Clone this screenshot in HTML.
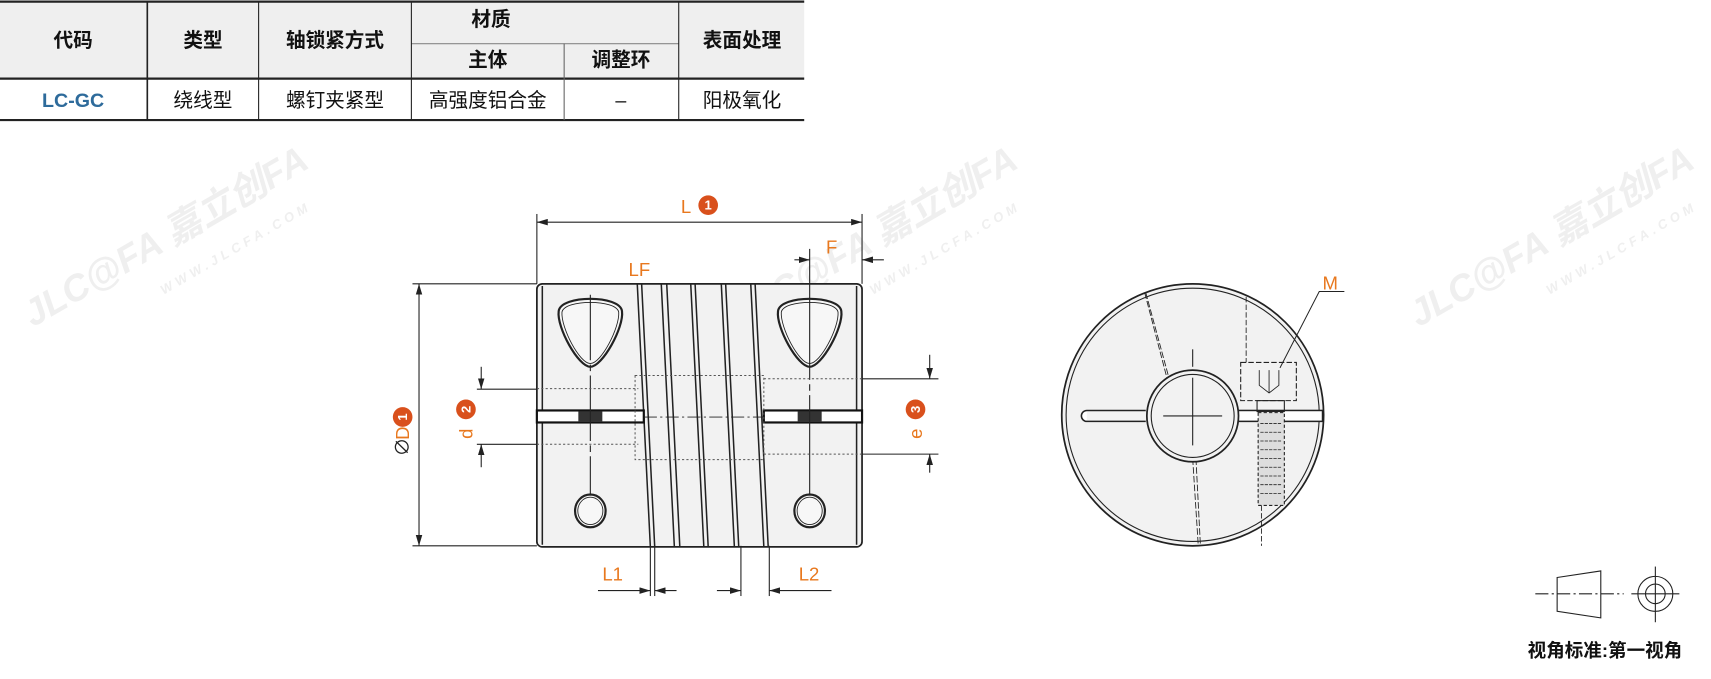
<!DOCTYPE html>
<html><head><meta charset="utf-8"><style>
html,body{margin:0;padding:0;background:#fff;}
svg{display:block;}
text{font-family:"Liberation Sans","Noto Sans CJK SC",sans-serif;}
</style></head><body>
<svg width="1711" height="679" viewBox="0 0 1568 622" preserveAspectRatio="none" xmlns="http://www.w3.org/2000/svg">
<defs>
<marker id="a" viewBox="0 0 10 6" refX="10" refY="3" markerWidth="10" markerHeight="6" orient="auto-start-reverse" markerUnits="userSpaceOnUse"><path d="M0,0 L10,3 L0,6z" fill="#222"/></marker>
</defs>
<!-- watermarks -->
<g fill="#efefef" font-weight="bold" font-style="italic">
<text x="0" y="0" font-size="34" transform="translate(30,300) rotate(-30)">JLC@FA 嘉立创FA</text>
<text x="0" y="0" font-size="12" transform="translate(150,270) rotate(-30)" letter-spacing="4">WWW.JLCFA.COM</text>
<text x="0" y="0" font-size="34" transform="translate(680,300) rotate(-30)">JLC@FA 嘉立创FA</text>
<text x="0" y="0" font-size="12" transform="translate(800,270) rotate(-30)" letter-spacing="4">WWW.JLCFA.COM</text>
<text x="0" y="0" font-size="34" transform="translate(1300,300) rotate(-30)">JLC@FA 嘉立创FA</text>
<text x="0" y="0" font-size="12" transform="translate(1420,270) rotate(-30)" letter-spacing="4">WWW.JLCFA.COM</text>
</g>
<!-- table -->
<rect x="0" y="1" width="737" height="71" fill="#efefef"/>
<g stroke="#222" fill="none">
<line x1="0" y1="1.5" x2="737" y2="1.5" stroke-width="2"/>
<line x1="0" y1="72" x2="737" y2="72" stroke-width="2"/>
<line x1="0" y1="110" x2="737" y2="110" stroke-width="2"/>
<line x1="377" y1="40" x2="622" y2="40" stroke="#888"/>
<line x1="135" y1="1" x2="135" y2="110" stroke-width="1.5"/>
<line x1="237" y1="1" x2="237" y2="110"/>
<line x1="377" y1="1" x2="377" y2="110"/>
<line x1="517" y1="40" x2="517" y2="110" stroke="#666"/>
<line x1="622" y1="1" x2="622" y2="110"/>
</g>
<g font-size="18" fill="#111" text-anchor="middle" font-weight="bold">
<text x="67" y="43">代码</text><text x="186" y="43">类型</text><text x="307" y="43">轴锁紧方式</text>
<text x="450" y="24">材质</text><text x="447" y="61">主体</text><text x="569" y="61">调整环</text><text x="680" y="43">表面处理</text>
</g>
<g font-size="18" fill="#111" text-anchor="middle">
<text x="67" y="98" fill="#2e6b9b" font-weight="bold">LC-GC</text><text x="186" y="98">绕线型</text><text x="307" y="98">螺钉夹紧型</text>
<text x="447" y="98">高强度铝合金</text><text x="569" y="98">–</text><text x="680" y="98">阳极氧化</text>
</g>
<!-- front view body -->
<rect x="492" y="260" width="298" height="241" rx="5" fill="#f2f2f2" stroke="#222" stroke-width="1.6"/>
<g stroke="#222" stroke-width="1.4" fill="none">
<path d="M584,260 L596,501 M588,260 L600,501"/>
<path d="M606,260 L618,501 M611,260 L623,501"/>
<path d="M633,260 L645,501 M637,260 L649,501"/>
<path d="M661,260 L673,501 M665,260 L677,501"/>
<path d="M688,260 L700,501 M692,260 L704,501"/>
<line x1="497" y1="262" x2="497" y2="499"/><line x1="785" y1="262" x2="785" y2="499"/>
</g>
<!-- slits -->
<rect x="492" y="376" width="98" height="11" fill="#fff" stroke="#111" stroke-width="2"/>
<rect x="700" y="376" width="90" height="11" fill="#fff" stroke="#111" stroke-width="2"/>
<rect x="530" y="377" width="22" height="9" fill="#333"/><rect x="731" y="377" width="22" height="9" fill="#333"/>
<line x1="590" y1="382" x2="700" y2="382" stroke="#222" stroke-dasharray="12,3,2,3" stroke-width="0.8"/>
<!-- triangles -->
<g fill="#f7f7f7" stroke="#222" stroke-width="2">
<path d="M541,336 C530,336 510,300 512,285 C514,270 568,270 570,285 C572,300 552,336 541,336Z"/>
<path d="M742,336 C731,336 711,300 713,285 C715,270 769,270 771,285 C773,300 753,336 742,336Z"/>
<ellipse cx="541" cy="468" rx="14" ry="15"/><ellipse cx="742" cy="468" rx="14" ry="15"/>
</g>
<g fill="none" stroke="#222" stroke-width="0.8">
<path d="M541,333 C531,333 514,300 515,286 C517,274 565,274 567,286 C568,300 551,333 541,333Z"/>
<path d="M742,333 C732,333 715,300 716,286 C718,274 766,274 768,286 C769,300 752,333 742,333Z"/>
<ellipse cx="541" cy="468" rx="11.5" ry="12.5"/><ellipse cx="742" cy="468" rx="11.5" ry="12.5"/>
</g>
<g stroke="#222" stroke-width="1" fill="none">
<line x1="541" y1="270" x2="541" y2="454" stroke-dasharray="60,4,6,4"/>
<line x1="742" y1="228" x2="742" y2="454" stroke-dasharray="120,4,6,4"/>
</g>
<!-- hidden lines -->
<g stroke="#555" stroke-width="0.9" fill="none" stroke-dasharray="2,2">
<line x1="492" y1="356" x2="585" y2="356"/><line x1="492" y1="407" x2="585" y2="407"/>
<rect x="582" y="344" width="118" height="77"/>
<line x1="700" y1="347" x2="790" y2="347"/><line x1="700" y1="416" x2="790" y2="416"/>
</g>
<!-- dimensions -->
<g stroke="#222" stroke-width="1" fill="none">
<line x1="492" y1="196" x2="492" y2="260"/><line x1="790" y1="196" x2="790" y2="260"/>
<line x1="492" y1="203.5" x2="790" y2="203.5" marker-start="url(#a)" marker-end="url(#a)"/>
<line x1="728" y1="238" x2="742" y2="238" marker-end="url(#a)"/>
<line x1="810" y1="238" x2="790" y2="238" marker-end="url(#a)"/>
<line x1="378" y1="260" x2="492" y2="260"/><line x1="378" y1="500" x2="492" y2="500"/>
<line x1="384" y1="260" x2="384" y2="500" marker-start="url(#a)" marker-end="url(#a)"/>
<line x1="437" y1="356.5" x2="492" y2="356.5"/><line x1="437" y1="407" x2="492" y2="407"/>
<line x1="441" y1="336" x2="441" y2="356.5" marker-end="url(#a)"/><line x1="441" y1="428" x2="441" y2="407" marker-end="url(#a)"/>
<line x1="790" y1="347" x2="860" y2="347"/><line x1="790" y1="416" x2="860" y2="416"/>
<line x1="852" y1="325" x2="852" y2="347" marker-end="url(#a)"/><line x1="852" y1="433" x2="852" y2="416" marker-end="url(#a)"/>
<line x1="596" y1="500" x2="596" y2="546"/><line x1="600" y1="500" x2="600" y2="546"/>
<line x1="548" y1="541" x2="596" y2="541" marker-end="url(#a)"/><line x1="620" y1="541" x2="600" y2="541" marker-end="url(#a)"/>
<line x1="679" y1="500" x2="679" y2="546"/><line x1="705" y1="500" x2="705" y2="546"/>
<line x1="657" y1="541" x2="679" y2="541" marker-end="url(#a)"/><line x1="762" y1="541" x2="705" y2="541" marker-end="url(#a)"/>
</g>
<g fill="#e8781e" font-size="17">
<text x="624" y="195">L</text>
<text x="757" y="232">F</text>
<text x="576" y="253">LF</text>
<text x="552" y="532">L1</text>
<text x="732" y="532">L2</text>
<text x="1212" y="265">M</text>
</g>
<g font-size="12" font-weight="bold" text-anchor="middle">
<circle cx="649" cy="188" r="9" fill="#d9501c"/><text x="649" y="192" fill="#fff">1</text>
</g>
<g transform="translate(375,380) rotate(-90)">
<text x="-38" y="0" font-size="17" fill="#222">∅</text><text x="-23" y="0" font-size="17" fill="#e8781e">D</text>
<circle cx="-2" cy="-6" r="9" fill="#d9501c"/><text x="-2" y="-2" font-size="12" font-weight="bold" fill="#fff" text-anchor="middle">1</text>
</g>
<g transform="translate(433,382) rotate(-90)">
<text x="-20" y="0" font-size="17" fill="#e8781e">d</text>
<circle cx="7" cy="-6" r="9" fill="#d9501c"/><text x="7" y="-2" font-size="12" font-weight="bold" fill="#fff" text-anchor="middle">2</text>
</g>
<g transform="translate(845,382) rotate(-90)">
<text x="-20" y="0" font-size="17" fill="#e8781e">e</text>
<circle cx="7" cy="-6" r="9" fill="#d9501c"/><text x="7" y="-2" font-size="12" font-weight="bold" fill="#fff" text-anchor="middle">3</text>
</g>
<!-- side view -->
<g stroke="#222" fill="none">
<circle cx="1093" cy="380" r="120" fill="#f2f2f2" stroke-width="1.6"/>
<circle cx="1093" cy="380" r="116" stroke-width="1"/>
<path d="M1049,268 L1073,360 M1050,268 L1075,360" stroke-width="0.8" stroke-dasharray="6,2"/>
<path d="M1093,420 L1098,498 M1096,420 L1100,498" stroke-width="0.8" stroke-dasharray="6,2"/>
<path d="M996,376 L1050,376 M996,386 L1050,386 M996,376 A5,5 0 0 0 996,386" stroke-width="1.4" fill="#fff"/>
<rect x="1131" y="376" width="81" height="10" fill="#fff" stroke-width="1.4"/>
<circle cx="1093" cy="381" r="42" fill="#f2f2f2" stroke-width="1.6"/>
<circle cx="1093" cy="381" r="38" stroke-width="1"/>
<line x1="1066" y1="381" x2="1120" y2="381"/><line x1="1093" y1="346" x2="1093" y2="408"/>
<line x1="1093" y1="320" x2="1093" y2="336"/>
<rect x="1137" y="332" width="51" height="35" stroke-dasharray="5,2" stroke-width="1"/>
<path d="M1154,339 L1154,353 L1163,360 L1172,353 L1172,339 M1163,339 L1163,360" stroke-width="0.8"/>
<rect x="1152" y="367" width="25" height="10" stroke-width="1"/>
<rect x="1153" y="378" width="24" height="85" fill="#ddd" stroke-dasharray="3,2" stroke-width="1"/>
<path d="M1155,388 H1175 M1155,396 H1175 M1155,404 H1175 M1155,412 H1175 M1155,420 H1175 M1155,428 H1175 M1155,436 H1175 M1155,444 H1175 M1155,452 H1175" stroke-width="0.7" stroke-dasharray="3,1"/>
<path d="M1142,272 L1142,332 M1156,463 L1156,500" stroke-dasharray="5,2" stroke-width="0.8"/>
<path d="M1232,267 L1209,267 L1173,337" stroke-width="0.9"/>
</g>
<!-- view symbol -->
<g stroke="#222" fill="none" stroke-width="1">
<path d="M1427,529 L1467,523 L1467,566 L1427,560Z"/>
<line x1="1407" y1="544" x2="1488" y2="544" stroke-dasharray="12,3,2,3"/>
<circle cx="1517" cy="544" r="16"/><circle cx="1517" cy="544" r="9"/>
<line x1="1495" y1="544" x2="1539" y2="544"/><line x1="1517" y1="519" x2="1517" y2="570"/>
</g>
<text x="1400" y="602" font-size="17" font-weight="bold" fill="#111">视角标准:第一视角</text>
</svg>
</body></html>
